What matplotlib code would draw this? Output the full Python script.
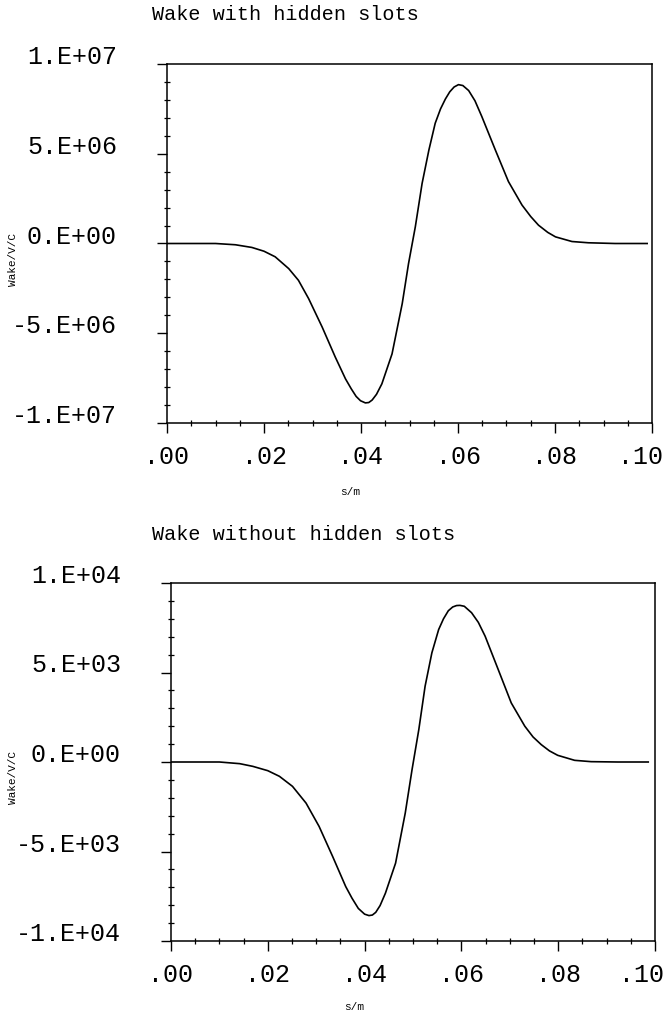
import matplotlib
matplotlib.use("Agg")
import matplotlib.pyplot as plt
import matplotlib.ticker as ticker
import matplotlib.transforms as mtransforms

# values
s_top = [0.0, 0.010, 0.0141, 0.0175, 0.020, 0.0223, 0.0251, 0.0271, 0.0292, 0.0320,
         0.0347, 0.0368, 0.0380, 0.0390, 0.0399, 0.0409, 0.0416, 0.0423, 0.0432, 0.0443,
         0.0464, 0.0485, 0.0498, 0.0512, 0.0526, 0.0540, 0.0553, 0.0564, 0.0574, 0.0583,
         0.0592, 0.0601, 0.0610, 0.0622, 0.0635, 0.0649, 0.0677, 0.0704, 0.0732, 0.0750,
         0.0766, 0.0785, 0.0801, 0.0835, 0.0869, 0.0924, 0.0990]
wake_top = [0.0, 0.0, -0.07e6, -0.22e6, -0.43e6, -0.74e6, -1.40e6, -2.05e6, -3.07e6, -4.66e6,
            -6.33e6, -7.54e6, -8.10e6, -8.52e6, -8.76e6, -8.88e6, -8.86e6, -8.72e6, -8.40e6, -7.82e6,
            -6.15e6, -3.35e6, -1.12e6, 0.93e6, 3.35e6, 5.21e6, 6.70e6, 7.50e6, 8.05e6, 8.45e6,
            8.72e6, 8.85e6, 8.80e6, 8.52e6, 7.95e6, 7.08e6, 5.21e6, 3.45e6, 2.14e6, 1.50e6,
            1.02e6, 0.62e6, 0.37e6, 0.11e6, 0.04e6, 0.0, 0.0]

s_bot = [0.0, 0.010, 0.0142, 0.0169, 0.020, 0.0224, 0.0251, 0.0279, 0.0306, 0.0334,
         0.0361, 0.0374, 0.0387, 0.0400, 0.0409, 0.0416, 0.0423, 0.0432, 0.0443, 0.0464,
         0.0484, 0.0498, 0.0512, 0.0525, 0.0539, 0.0553, 0.0563, 0.0573, 0.0582, 0.0590,
         0.0597, 0.0606, 0.0621, 0.0635, 0.0649, 0.0676, 0.0703, 0.0731, 0.0748, 0.0765,
         0.0782, 0.0799, 0.0834, 0.0868, 0.0923, 0.0986]
wake_bot = [0, 0, -93, -243, -485, -800, -1360, -2295, -3600, -5280,
            -6960, -7610, -8180, -8500, -8580, -8550, -8400, -8020, -7330, -5650,
            -2850, -430, 1810, 4235, 6100, 7400, 8000, 8450, 8660, 8740,
            8750, 8700, 8340, 7800, 7030, 5170, 3300, 2000, 1400, 970,
            620, 373, 93, 19, 0, 0]

x_ticks = [0.0, 0.02, 0.04, 0.06, 0.08, 0.10]
x_labels = ['.00', '.02', '.04', '.06', '.08', '.10']
y_top_ticks = [-1e7, -5e6, 0, 5e6, 1e7]
y_top_labels = ['-1.E+07', '-5.E+06', '0.E+00', '5.E+06', '1.E+07']
y_bot_ticks = [-1e4, -5e3, 0, 5e3, 1e4]
y_bot_labels = ['-1.E+04', '-5.E+03', '0.E+00', '5.E+03', '1.E+04']

mono = 'Liberation Mono'
W, H = 666, 1013
fig = plt.figure(figsize=(W / 100, H / 100), dpi=100)


def panel(left, right, top, bottom, s, w, yt, yl, title, title_y, ylab_y, xlab_x, xlab_y):
    ax = fig.add_axes([left / W, 1 - bottom / H, (right - left) / W, (bottom - top) / H])
    ax.plot(s, w, color='black', lw=1.2, solid_joinstyle='round')
    ax.set_xlim(0, 0.1)
    ax.set_ylim(yt[0], yt[-1])
    ax.set_xticks(x_ticks)
    ax.set_xticklabels(x_labels, family=mono, fontsize=18)
    ax.set_yticks(yt)
    ax.set_yticklabels(yl, family=mono, fontsize=18, va='baseline')
    ax.xaxis.set_minor_locator(ticker.MultipleLocator(0.005))
    ax.yaxis.set_minor_locator(ticker.MultipleLocator((yt[-1] - yt[0]) / 20))
    ax.tick_params(which='major', direction='out', length=7, width=1.0, color='black')
    ax.tick_params(axis='y', which='major', pad=29)
    ax.tick_params(axis='x', which='major', pad=9)
    ax.tick_params(which='minor', direction='inout', length=4, width=0.9)
    for sp in ax.spines.values():
        sp.set_linewidth(1.1)
    # nudge the last x label so it stays inside the figure
    shift = right + 25 - W
    last = ax.get_xticklabels()[-1]
    last.set_transform(last.get_transform() +
                       mtransforms.ScaledTranslation(-shift / 100, 0, fig.dpi_scale_trans))
    fig.text(152 / W, 1 - title_y / H, title, family=mono, fontsize=14.5,
             ha='left', va='center')
    fig.text(13 / W, 1 - ylab_y / H, 'Wake/V/C', family=mono, fontsize=8,
             rotation=90, ha='center', va='center')
    fig.text(xlab_x / W, 1 - xlab_y / H, 's/m', family=mono, fontsize=8,
             ha='center', va='center')
    return ax


panel(167, 652, 64, 423, s_top, wake_top, y_top_ticks, y_top_labels,
      'Wake with hidden slots', 15, 259, 350, 492)
panel(171, 655, 583, 941, s_bot, wake_bot, y_bot_ticks, y_bot_labels,
      'Wake without hidden slots', 534, 777, 354, 1007)

fig.savefig('out.png', dpi=100)
